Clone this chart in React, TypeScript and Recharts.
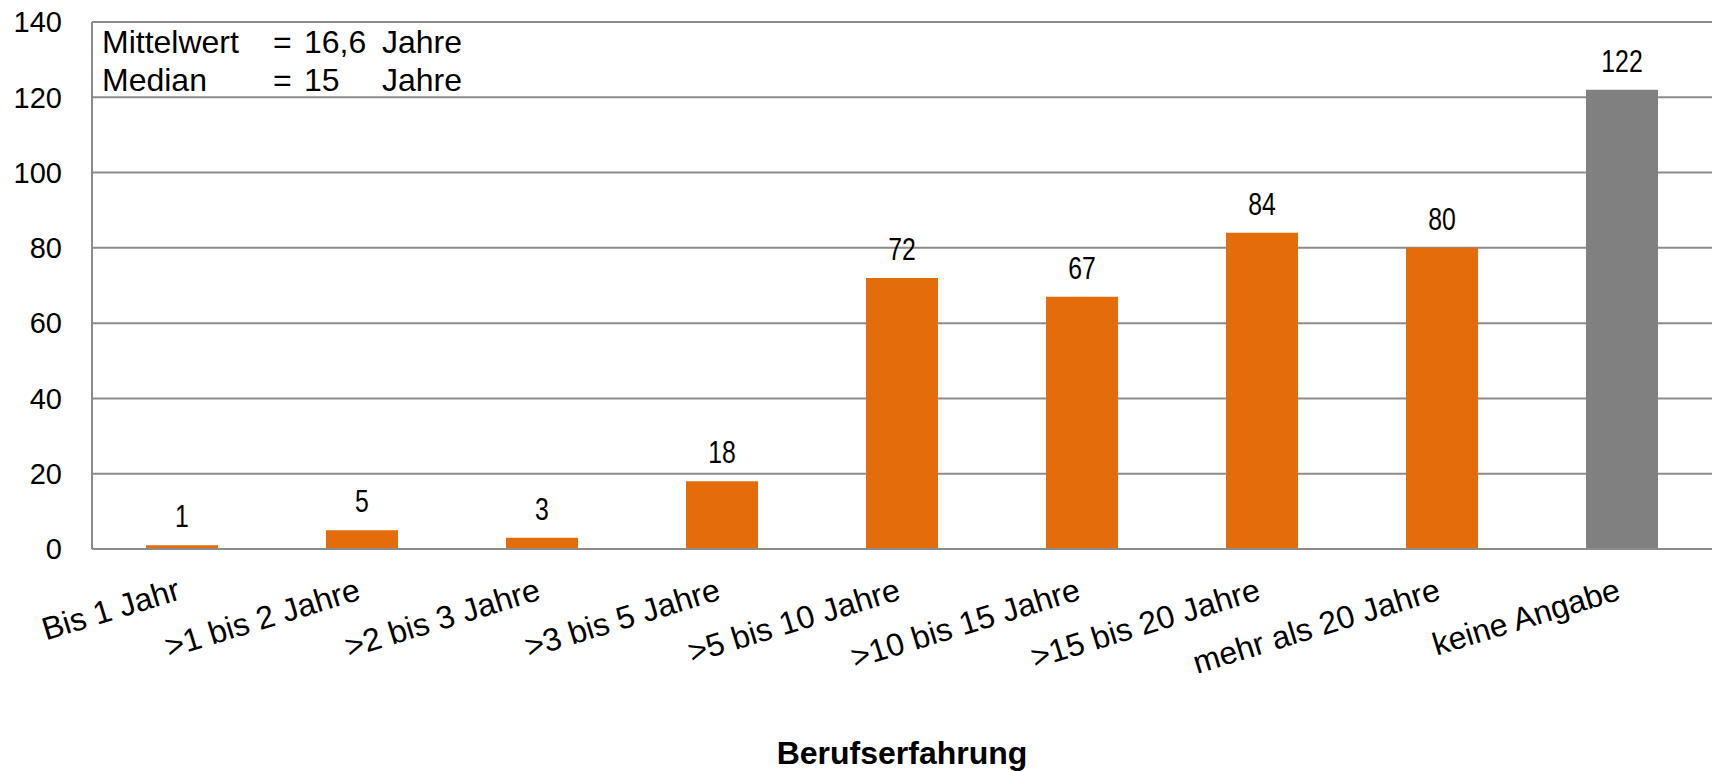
import React from 'react';
import { BarChart, Bar, XAxis, YAxis, CartesianGrid, Cell, LabelList, Label } from 'recharts';

// Berufserfahrung der Befragten (Anzahl)
const categories = [
  'Bis 1 Jahr',
  '>1 bis 2 Jahre',
  '>2 bis 3 Jahre',
  '>3 bis 5 Jahre',
  '>5 bis 10 Jahre',
  '>10 bis 15 Jahre',
  '>15 bis 20 Jahre',
  'mehr als 20 Jahre',
  'keine Angabe',
];
const counts = [1, 5, 3, 18, 72, 67, 84, 80, 122];
const yTicks = [0, 20, 40, 60, 80, 100, 120, 140];

const statNames = ['Mittelwert', 'Median'];
const statValues = ['16,6', '15'];
const statUnit = 'Jahre';
const axisTitle = 'Berufserfahrung';

const ORANGE = '#E46C0A';
const GREY = '#808080';
const GRID = '#8c8c8c';
const FONT = "'Liberation Sans', Arial, sans-serif";

const data = categories.map((name, i) => ({ name, value: counts[i] }));

const RotatedTick = (props: any) => {
  const { x, y, payload } = props;
  const ty = y + 50;
  return (
    <text
      x={x}
      y={ty}
      transform={`rotate(-17, ${x}, ${ty})`}
      textAnchor="end"
      fontSize={32}
      fontFamily={FONT}
      fill="#000"
    >
      {payload.value}
    </text>
  );
};

// narrow-looking value labels (Arial Narrow isn't available, so squeeze Liberation Sans)
const ValueLabel = (props: any) => {
  const { x, y, width, value } = props;
  const cx = x + width / 2;
  const by = y - 18;
  return (
    <text
      transform={`translate(${cx}, ${by}) scale(0.8, 1)`}
      textAnchor="middle"
      fontSize={31}
      fontFamily={FONT}
      fill="#000"
    >
      {value}
    </text>
  );
};

export default function App() {
  return (
    <div style={{ position: 'absolute', left: 0, top: 0, width: 1712, height: 771, background: '#fff' }}>
      <BarChart
        width={1712}
        height={771}
        data={data}
        margin={{ top: 22, right: 0, left: 12, bottom: 0 }}
        barSize={72}
      >
        <CartesianGrid vertical={false} stroke={GRID} strokeWidth={2} />
        <YAxis
          width={80}
          domain={[0, 140]}
          ticks={yTicks}
          interval={0}
          tickLine={false}
          tickSize={0}
          tickMargin={30}
          axisLine={{ stroke: GRID, strokeWidth: 2 }}
          tick={{ fontSize: 29, fontFamily: FONT, fill: '#000' }}
        />
        <XAxis
          dataKey="name"
          height={222}
          interval={0}
          tickLine={false}
          tickSize={0}
          tickMargin={0}
          axisLine={{ stroke: GRID, strokeWidth: 2 }}
          tick={<RotatedTick />}
        >
          <Label
            value={axisTitle}
            position="insideBottom"
            offset={7}
            style={{ fontSize: 32, fontWeight: 'bold', fontFamily: FONT, fill: '#000' }}
          />
        </XAxis>
        <Bar dataKey="value" isAnimationActive={false}>
          {data.map((d, i) => (
            <Cell key={i} fill={d.name === 'keine Angabe' ? GREY : ORANGE} />
          ))}
          <LabelList dataKey="value" content={<ValueLabel />} />
        </Bar>
      </BarChart>
      <svg
        width={520}
        height={110}
        style={{ position: 'absolute', left: 0, top: 0, pointerEvents: 'none' }}
      >
        {statNames.map((n, i) => {
          const by = 53 + i * 38;
          return (
            <g key={n} fontSize={32} fontFamily={FONT} fill="#000">
              <text x={102} y={by}>{n}</text>
              <text x={273} y={by}>=</text>
              <text x={304} y={by}>{statValues[i]}</text>
              <text x={382} y={by}>{statUnit}</text>
            </g>
          );
        })}
      </svg>
    </div>
  );
}
